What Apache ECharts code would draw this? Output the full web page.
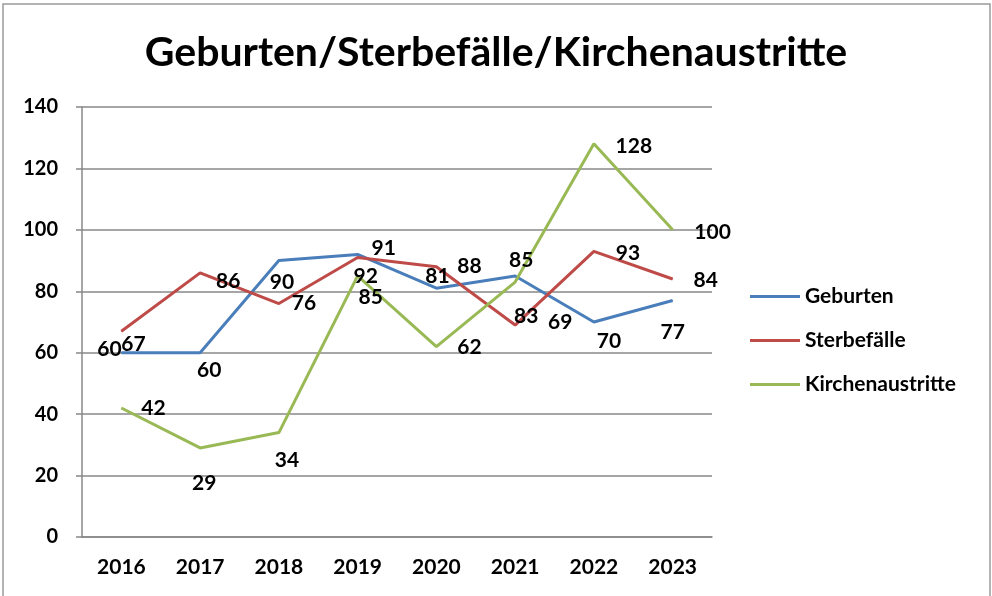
<!DOCTYPE html>
<html>
<head>
<meta charset="utf-8">
<script src="https://cdn.jsdelivr.net/npm/echarts@6/dist/echarts.min.js"></script>
<style>
  html, body { margin: 0; padding: 0; background: #fff; }
  #chart { width: 992px; height: 596px; }
</style>
</head>
<body>
<div id="chart"></div>
<script>
// data
const years = ['2016', '2017', '2018', '2019', '2020', '2021', '2022', '2023']
const geburten = [60, 60, 90, 92, 81, 85, 70, 77]
const sterbefaelle = [67, 86, 76, 91, 88, 69, 93, 84]
const kirchenaustritte = [42, 29, 34, 85, 62, 83, 128, 100]

// label offsets (label centre relative to the point), like the hand-moved excel labels
const offGeb = [[-12, -3], [9, 18], [3, 22], [8, 22], [1, -12], [6, -16], [15, 19], [0, 32]]
const offSterb = [[12, 13], [28, 8], [25, 0], [26, -9], [33, 0], [45, -3], [34, 2], [33, 1]]
const offKirch = [[32, 0], [4, 35], [8, 28], [13, 21], [33, 1], [11, 34], [40, 2], [40, 2]]

const font = 'Lato'

function withLabels(values, offsets) {
  return values.map((v, i) => ({
    value: v,
    label: { offset: offsets[i] }
  }))
}

function lineSeries(name, values, offsets, color) {
  return {
    name: name,
    type: 'line',
    data: withLabels(values, offsets),
    symbol: 'circle',
    symbolSize: 1,
    color: color,
    lineStyle: { width: 3, color: color },
    label: {
      show: true,
      position: 'inside',
      color: '#000',
      fontFamily: font,
      fontWeight: 'bold',
      fontSize: 21
    },
    emphasis: { disabled: true }
  }
}

const chart = echarts.init(document.getElementById('chart'))
chart.setOption({
  animation: false,
  title: {
    text: 'Geburten/Sterbefälle/Kirchenaustritte',
    left: 'center',
    top: 27,
    textStyle: { fontFamily: font, fontWeight: 'bold', fontSize: 41, color: '#000' }
  },
  graphic: [{
    type: 'rect',
    shape: { x: 3, y: 4, width: 987, height: 600 },
    style: { fill: 'none', stroke: '#9a9a9a', lineWidth: 1.5 },
    silent: true
  }],
  legend: {
    orient: 'vertical',
    left: 750,
    top: 286,
    padding: 0,
    icon: 'rect',
    itemWidth: 50,
    itemHeight: 3,
    itemGap: 23,
    textStyle: { fontFamily: font, fontWeight: 'bold', fontSize: 21, color: '#000' },
    data: ['Geburten', 'Sterbefälle', 'Kirchenaustritte']
  },
  grid: { left: 82, right: 280, top: 107, bottom: 59 },
  xAxis: {
    type: 'category',
    data: years,
    boundaryGap: true,
    axisLine: { lineStyle: { color: '#888', width: 1.5 } },
    axisTick: { length: 6, lineStyle: { color: '#888', width: 1.5 } },
    axisLabel: { margin: 20, color: '#000', fontFamily: font, fontWeight: 'bold', fontSize: 21 }
  },
  yAxis: {
    type: 'value',
    min: 0,
    max: 140,
    interval: 20,
    axisLine: { show: true, lineStyle: { color: '#888', width: 1.5 } },
    axisTick: { show: true, length: 6, lineStyle: { color: '#888', width: 1.5 } },
    splitLine: { lineStyle: { color: '#888', width: 1.5 } },
    axisLabel: { margin: 24, color: '#000', fontFamily: font, fontWeight: 'bold', fontSize: 20 }
  },
  series: [
    lineSeries('Geburten', geburten, offGeb, '#4a7ebb'),
    lineSeries('Sterbefälle', sterbefaelle, offSterb, '#be4b48'),
    lineSeries('Kirchenaustritte', kirchenaustritte, offKirch, '#98b954')
  ]
})
</script>
</body>
</html>
